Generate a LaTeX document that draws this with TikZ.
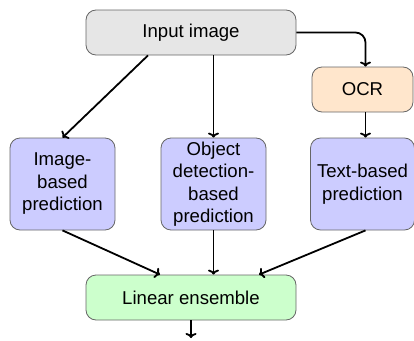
\documentclass[tikz,border=0pt]{standalone}
\usepackage{fontspec}
\setmainfont{Liberation Sans}
\usetikzlibrary{calc,arrows.meta}
\definecolor{inputfill}{HTML}{E6E6E6}
\definecolor{ocrfill}{HTML}{FFE6CC}
\definecolor{predfill}{HTML}{CCCCFF}
\definecolor{ensfill}{HTML}{CCFFCC}
\definecolor{boxline}{HTML}{666666}
\begin{document}
\begin{tikzpicture}[x=1pt,y=-1pt,
  box/.style={draw=boxline, line width=0.8pt, rounded corners=10pt,
    align=center, inner sep=2pt,
    font=\fontsize{18.6}{22.5}\selectfont},
  wide/.style={box, minimum width=210pt, minimum height=45pt},
  small/.style={box, minimum width=101pt, minimum height=45pt},
  pred/.style={box, fill=predfill, minimum width=105pt, minimum height=92pt, text width=100pt},
  flow/.style={-{To[length=5pt,width=11pt]}, line width=1.8pt, black}]
  \useasboundingbox (0,0) rectangle (414,340);

  \node[wide, fill=inputfill] (in) at (191,32.5) {Input image};
  \node[small, fill=ocrfill] (ocr) at (362.5,89.5) {OCR};
  \node[pred] (img) at (62.5,184) {Image-\\based\\prediction};
  \node[pred] (obj) at (213.5,184) {Object\\detection-\\based\\prediction};
  \node[pred, minimum width=101pt] (txt) at (362.5,184) {Text-based\\prediction};
  \node[wide, fill=ensfill] (ens) at (191,297.5) {Linear ensemble};
  \coordinate (out) at (191,338);

  \draw[flow] ($(in.south)+(-43,0)$) -- (img.north);
  \draw[flow] (in.south -| obj.north) -- (obj.north);
  \draw[flow, rounded corners=10pt] (in.east) -| ($(ocr.north)+(3,0)$);
  \draw[flow] ($(ocr.south)+(3,0)$) -- ($(txt.north)+(3,0)$);
  \draw[flow] (img.south) -- ($(ens.north)+(-31,0)$);
  \draw[flow] (obj.south) -- (ens.north -| obj.south);
  \draw[flow] ($(txt.south)+(3,0)$) -- ($(ens.north)+(68,0)$);
  \draw[flow] (ens.south) -- (out);
\end{tikzpicture}
\end{document}
